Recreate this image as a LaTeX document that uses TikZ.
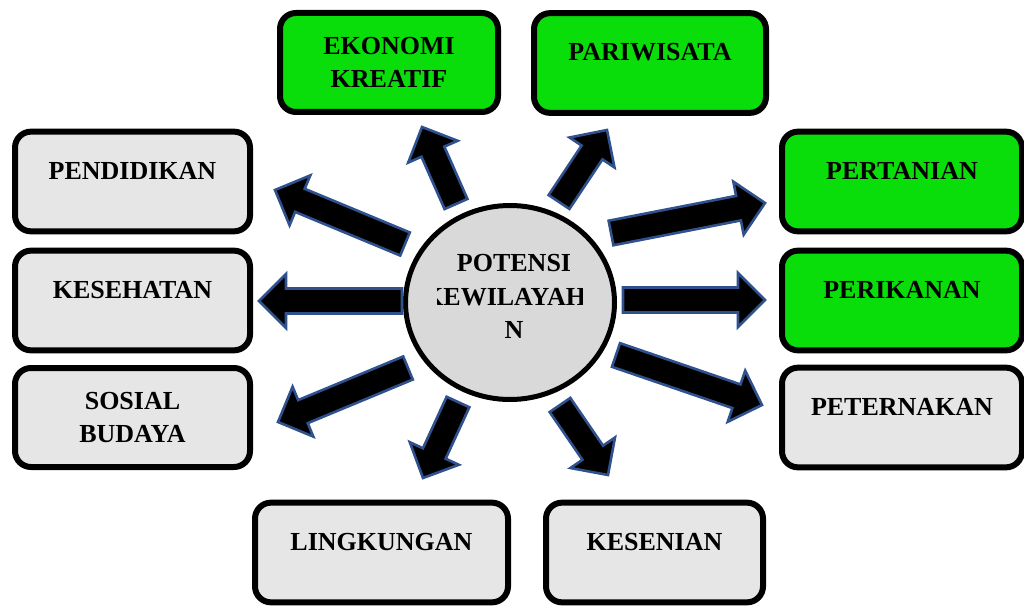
\documentclass[tikz,border=0pt]{standalone}
\usepackage{fontspec}
\setmainfont{Liberation Serif}
\usetikzlibrary{calc,shapes.geometric}
\definecolor{potgreen}{RGB}{10,222,10}
\definecolor{potgray}{RGB}{230,230,230}
\definecolor{potcircle}{RGB}{217,217,217}
\definecolor{potblue}{RGB}{47,82,143}
% block arrow from tail coordinate #1 to tip coordinate #2
\newcommand{\potarrow}[2]{%
 \coordinate (hb) at ($(#2)!27pt!(#1)$);
 \draw[arr] ($(#1)!12.5pt!90:(#2)$) -- ($(hb)!12.5pt!90:(#2)$) -- ($(hb)!27pt!90:(#2)$) -- (#2)
  -- ($(hb)!27pt!-90:(#2)$) -- ($(hb)!12.5pt!-90:(#2)$) -- ($(#1)!12.5pt!-90:(#2)$) -- cycle;}

\begin{document}
\begin{tikzpicture}[x=1pt,y=-1pt,
 box/.style={draw=black,line width=6pt,rounded corners=16pt,inner xsep=0pt,inner ysep=0pt,font=\fontsize{26}{33}\selectfont\bfseries},
 onebox/.style={box,text height=47.7pt,text depth=52pt},
 twobox/.style={box,minimum height=99pt,align=center},
 arr/.style={fill=black,draw=potblue,line width=2.6pt,line join=miter}]
 \useasboundingbox (0,0) rectangle (1024,607);
 % boxes
 \node[twobox,fill=potgreen,minimum width=218pt] (ekonomi) at (389,62.5) {EKONOMI\\KREATIF};
 \node[onebox,fill=potgreen,minimum width=232pt] (pariwisata) at (650,63) {PARIWISATA};
 \node[onebox,fill=potgray,minimum width=235pt] (pendidikan) at (132.5,181.5) {PENDIDIKAN};
 \node[onebox,fill=potgray,minimum width=235pt] (kesehatan) at (132.5,300.5) {KESEHATAN};
 \node[twobox,fill=potgray,minimum width=235pt] (sosial) at (132.5,417.5) {SOSIAL\\BUDAYA};
 \node[onebox,fill=potgreen,minimum width=240pt] (pertanian) at (902,181.5) {PERTANIAN};
 \node[onebox,fill=potgreen,minimum width=240pt] (perikanan) at (902,300.5) {PERIKANAN};
 \node[onebox,fill=potgray,minimum width=240pt] (peternakan) at (902,417.5) {PETERNAKAN};
 \node[onebox,fill=potgray,minimum width=253pt] (lingkungan) at (381.5,552.5) {LINGKUNGAN};
 \node[onebox,fill=potgray,minimum width=217pt] (kesenian) at (654.5,552.5) {KESENIAN};
 % centre
 \node[ellipse,draw=black,line width=5pt,fill=potcircle,minimum width=209pt,minimum height=194pt] (potensi) at (510,302.5) {};
 \begin{scope}
  \clip (437,230) rectangle (582,360);
  \node[font=\fontsize{26}{33.5}\selectfont\bfseries,align=center,inner sep=0pt] (potensi-t) at (514,296.5) {POTENSI\\KEWILAYAHA\\N};
 \end{scope}
 % arrows
 \coordinate (s1) at (456,204); \coordinate (e1) at (422,127);
 \coordinate (s2) at (559,202); \coordinate (e2) at (607,130);
 \coordinate (s3) at (405,244); \coordinate (e3) at (275,190);
 \coordinate (s4) at (402,301); \coordinate (e4) at (259,301);
 \coordinate (s5) at (408,368); \coordinate (e5) at (278,422);
 \coordinate (s6) at (458,402); \coordinate (e6) at (423,478);
 \coordinate (s7) at (560,405); \coordinate (e7) at (608,475);
 \coordinate (s8) at (611,233); \coordinate (e8) at (765,203);
 \coordinate (s9) at (623,300); \coordinate (e9) at (765,300);
 \coordinate (s10) at (616,355); \coordinate (e10) at (762,405);
 \potarrow{s1}{e1} \potarrow{s2}{e2} \potarrow{s3}{e3} \potarrow{s4}{e4} \potarrow{s5}{e5}
 \potarrow{s6}{e6} \potarrow{s7}{e7} \potarrow{s8}{e8} \potarrow{s9}{e9} \potarrow{s10}{e10}
\end{tikzpicture}
\end{document}
